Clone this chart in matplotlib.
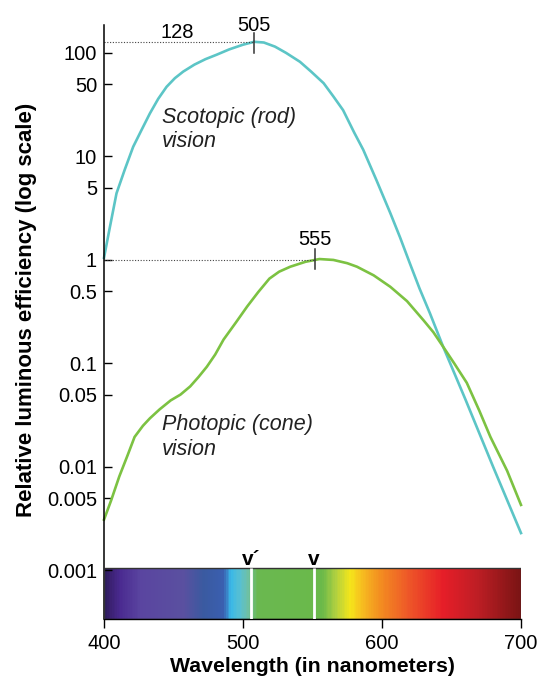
import matplotlib.pyplot as plt
import numpy as np
from matplotlib.colors import LinearSegmentedColormap
from matplotlib.patches import Rectangle

plt.rcParams['font.family'] = ['Liberation Sans', 'DejaVu Sans']

# curva escotopica (bastones)
rod_nm = [400, 404, 409, 415, 421, 427, 433, 439, 445, 451, 457, 465, 473, 481, 490, 500,
          508, 515, 523, 531, 541, 549, 558, 565, 572, 580, 586.5, 596, 606, 613, 620,
          627, 634.5, 644, 660, 680, 700]
rod_eff = [1.05, 2.0, 4.4, 7.5, 12.4, 18, 26, 36, 47, 57, 66, 77, 87, 96, 108, 120,
           128, 126, 115, 100, 82, 66, 51, 38, 28, 17, 11.6, 5.9, 2.83, 1.65, 0.93,
           0.53, 0.305, 0.145, 0.045, 0.01, 0.0023]

# curva fotopica (conos)
cone_nm = [400, 405, 411, 417, 422, 428, 433, 440, 448, 455, 462, 468, 474, 480, 486, 495,
           503, 511, 519, 526, 534, 545, 555, 565, 575, 582, 594, 606, 618, 630, 637, 644,
           652, 661, 670, 678, 690, 700]
cone_eff = [0.0031, 0.0047, 0.0081, 0.013, 0.0195, 0.025, 0.0295, 0.036, 0.044, 0.050,
            0.060, 0.074, 0.093, 0.122, 0.17, 0.25, 0.355, 0.49, 0.66, 0.77, 0.86, 0.96,
            1.02, 1.0, 0.93, 0.86, 0.71, 0.55, 0.40, 0.26, 0.20, 0.145, 0.10, 0.065, 0.035,
            0.0195, 0.0092, 0.0043]

ytick_vals = [100, 50, 10, 5, 1, 0.5, 0.1, 0.05, 0.01, 0.005, 0.001]
ytick_labels = ['100', '50', '10', '5', '1', '0.5', '0.1', '0.05', '0.01', '0.005', '0.001']
xticks = [400, 500, 600, 700]

rod_peak_nm, rod_peak = 508, 128
cone_peak_nm, cone_peak = 552, 1

# espectro visible
spec_nm = [400, 404, 411, 426, 457, 471, 486, 489, 491, 498, 504, 510, 557, 567,
           577, 587, 598, 618, 644, 668, 700]
spec_colors = ['#2a1a5a', '#3a2070', '#4a2a90', '#5a45a0', '#5a50a0', '#3a5aa0', '#3a5fb0',
               '#3a90d0', '#3ab8e8', '#5ac0d0', '#70c0a0', '#6ab850', '#6ab94a', '#b0d040',
               '#f5e61a', '#f6b820', '#f39020', '#ee5a28', '#e61e28', '#c01e25', '#7a1414']
vprime_nm, v_nm = 506, 551

ybot, bar_top = 3.4e-4, 1.05e-3

fig = plt.figure(figsize=(5.39, 6.8), dpi=100)
ax = fig.add_axes([104/539, 61/680, 417/539, 594/680])
ax.set_yscale('log')
ax.set_xlim(400, 700)
ax.set_ylim(ybot, 186)

# barra de colores
cmap = LinearSegmentedColormap.from_list('spec', [((n - 400) / 300, c) for n, c in zip(spec_nm, spec_colors)])
xe = np.linspace(400, 700, 601)
ax.pcolormesh(xe, [ybot, bar_top], ((xe[:-1] + xe[1:]) / 2)[None, :], cmap=cmap,
              vmin=400, vmax=700, shading='flat')
ax.add_patch(Rectangle((400, ybot), 300, bar_top - ybot, fill=False, lw=1, ec='#333333', zorder=3))
ax.vlines([vprime_nm, v_nm], ybot, bar_top, colors='white', lw=2, zorder=4)
ax.text(vprime_nm, 1.28e-3, 'v´', ha='center', va='center', fontsize=15, fontweight='bold')
ax.text(v_nm, 1.28e-3, 'v', ha='center', va='center', fontsize=15, fontweight='bold')

# curvas
ax.plot(rod_nm, rod_eff, color='#5cc5c6', lw=1.9, clip_on=False)
ax.plot(cone_nm, cone_eff, color='#7cc242', lw=1.9, clip_on=False)

# picos
ax.plot([400, rod_peak_nm], [rod_peak, rod_peak], ls=(0, (1, 1.5)), color='#444444', lw=0.8)
ax.plot([400, cone_peak_nm], [cone_peak, cone_peak], ls=(0, (1, 1.5)), color='#444444', lw=0.8)
ax.plot([rod_peak_nm] * 2, [100, 155], color='#333333', lw=1.1)
ax.plot([cone_peak_nm] * 2, [0.82, 1.28], color='#333333', lw=1.1)
ax.text(rod_peak_nm, 185, '505', ha='center', va='center', fontsize=14.5, clip_on=False)
ax.text(452.5, 158, '128', ha='center', va='center', fontsize=14.5)
ax.text(cone_peak_nm, 1.56, '555', ha='center', va='center', fontsize=14.5)

ax.text(441.7, 30.1, 'Scotopic (rod)\nvision', style='italic', fontsize=15.5,
        va='top', ha='left', linespacing=1.2, color='#222222')
ax.text(441.7, 0.0322, 'Photopic (cone)\nvision', style='italic', fontsize=15.5,
        va='top', ha='left', linespacing=1.2, color='#222222')

ax.set_yticks(ytick_vals)
ax.set_yticklabels(ytick_labels)
ax.minorticks_off()
ax.set_xticks(xticks)
ax.tick_params(axis='y', direction='in', length=6, width=1, pad=5, labelsize=14.5)
ax.tick_params(axis='x', direction='out', length=6.5, width=1, pad=4, labelsize=14.5)
ax.spines['top'].set_visible(False)
ax.spines['right'].set_visible(False)
ax.spines['left'].set_linewidth(1.1)
ax.spines['bottom'].set_linewidth(1)

ax.set_ylabel('Relative luminous efficiency (log scale)', fontsize=16, fontweight='bold')
ax.yaxis.set_label_coords(-0.161, 0.52)
ax.set_xlabel('Wavelength (in nanometers)', fontsize=15.3, fontweight='bold')
ax.xaxis.set_label_coords(0.5, -0.064)

fig.savefig('out.png', dpi=100)
